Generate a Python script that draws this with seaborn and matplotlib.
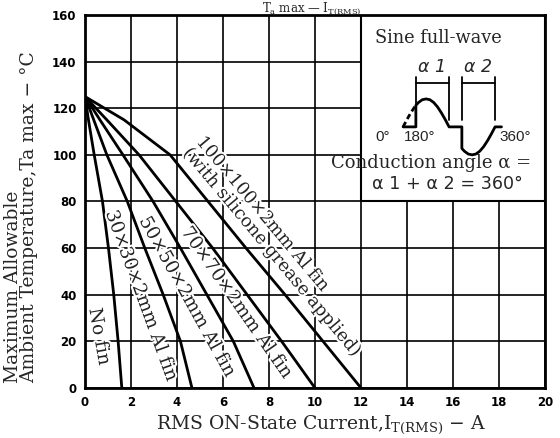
import numpy as np
import pandas as pd
import seaborn as sns
import matplotlib.pyplot as plt
import matplotlib.patheffects as pe
from matplotlib.patches import Rectangle

# Ta max levels (degC) and the RMS current (A) read for each fin
ta_levels = [125, 115, 100, 80, 60, 40, 20, 0]
i_no_fin = [0, 0.15, 0.4, 0.76, 1.02, 1.25, 1.44, 1.6]
i_fin30 = [0, 0.38, 0.95, 1.84, 2.6, 3.4, 4.15, 4.65]
i_fin50 = [0, 0.65, 1.65, 2.96, 4.15, 5.3, 6.45, 7.35]
i_fin70 = [0, 0.95, 2.35, 3.95, 5.55, 7.05, 8.55, 10.0]
i_fin100 = [0, 1.7, 3.7, 5.35, 7.0, 8.7, 10.35, 12.0]

fin_names = ['No fin', '30x30', '50x50', '70x70', '100x100']
x_ticks = list(range(0, 21, 2))
y_ticks = list(range(0, 161, 20))

# inset waveform: phase (deg) and relative amplitude
wave_deg = [0, 50, 50, 60, 75, 90, 105, 120, 135, 150, 165, 180, 230, 230, 240, 255, 270, 285, 300, 315, 330, 345, 360, 385]
wave_amp = [0, 0, .77, .87, .97, 1, .97, .87, .71, .5, .26, 0, 0, -.77, -.87, -.97, -1, -.97, -.87, -.71, -.5, -.26, 0, 0]
dash_deg = [0, 15, 30, 45, 50]
dash_amp = [0, .26, .5, .71, .77]

rows = []
for name, cur in zip(fin_names, [i_no_fin, i_fin30, i_fin50, i_fin70, i_fin100]):
    for c, t in zip(cur, ta_levels):
        rows.append({'fin': name, 'current': c, 'ta': t})
df = pd.DataFrame(rows)

sns.set_theme(style='white')
plt.rcParams['font.family'] = ['DejaVu Serif']

fig = plt.figure(figsize=(5.6, 4.38), dpi=100)
ax = fig.add_axes([0.1518, 0.1142, 0.8214, 0.8516])

sns.lineplot(data=df, x='current', y='ta', hue='fin', palette=['black'] * 5,
             estimator=None, sort=False, lw=2.0, legend=False, ax=ax, zorder=3)

ax.set_xlim(0, 20)
ax.set_ylim(0, 160)
ax.set_xticks(x_ticks)
ax.set_yticks(y_ticks)
ax.set_axisbelow(True)
ax.grid(True, color='black', lw=1.2)
for s in ax.spines.values():
    s.set_color('black')
    s.set_linewidth(2)
ax.tick_params(length=0, labelsize=8.5, pad=6)
plt.setp(ax.get_xticklabels() + ax.get_yticklabels(), family='DejaVu Sans', weight='bold', color='black')
ax.set_xlabel('')
ax.set_ylabel('')

# inset box
ax.add_patch(Rectangle((12, 80), 8, 80, facecolor='white', edgecolor='black', lw=1.5, zorder=1.5))
ax.text(12.6, 150, 'Sine full-wave', fontsize=12.8, va='center', ha='left', zorder=4)

def wx(d):
    return 13.83 + np.asarray(d) / 180 * 2.0

def wy(a):
    return 112 + 12 * np.asarray(a)

ax.plot(wx(wave_deg), wy(wave_amp), color='black', lw=2.0, zorder=4)
ax.plot(wx(dash_deg), wy(dash_amp), color='black', lw=2.0, ls=(0, (2, 1.2)), zorder=4)
for d0, d1 in [(50, 180), (230, 360)]:
    ax.plot([wx(d0), wx(d1)], [131, 131], color='black', lw=1.3, zorder=4)
    for d in (d0, d1):
        ax.plot([wx(d), wx(d)], [133.5, 115], color='black', lw=1.3, zorder=4)
ax.text(wx(115), 137.5, 'α 1', fontsize=12.5, family='DejaVu Sans', ha='center', va='center', style='italic', zorder=4)
ax.text(wx(295), 137.5, 'α 2', fontsize=12.5, family='DejaVu Sans', ha='center', va='center', style='italic', zorder=4)
ax.text(12.95, 107.5, '0°', family='Liberation Sans', fontsize=11, ha='center', va='center', zorder=4)
ax.text(14.57, 107.5, '180°', family='Liberation Sans', fontsize=11, ha='center', va='center', zorder=4)
ax.text(18.7, 107.5, '360°', family='Liberation Sans', fontsize=11, ha='center', va='center', zorder=4)
ax.text(10.7, 96.5, 'Conduction angle α =', fontsize=13, ha='left', va='center', zorder=4)
ax.text(15.75, 87.5, 'α 1 + α 2 = 360°', fontsize=12.6, family='DejaVu Sans', ha='center', va='center', zorder=4)

# curve labels
halo = [pe.withStroke(linewidth=3, foreground='white')]
labels = [
    ('No fin', 0.62, 22, -80, 13.3),
    ('30×30×2mm Al fin', 2.45, 39.5, -70, 13.3),
    ('50×50×2mm Al fin', 4.45, 39, -61, 13.3),
    ('70×70×2mm Al fin', 6.6, 36.5, -55, 13.3),
    ('100×100×2mm Al fin\n(with silicone grease applied)', 8.4, 61, -50, 12.8),
]
for txt, x, y, rot, fs in labels:
    ax.text(x, y, txt, fontsize=fs, rotation=rot, rotation_mode='anchor',
            ha='center', va='center', multialignment='left', linespacing=0.95,
            path_effects=halo, zorder=4)

fig.text(0.573, 0.03, r'RMS ON-State Current,I$_{\mathregular{T(RMS)}}$ − A', fontsize=13.5, ha='center', va='center')
fig.text(0.038, 0.1256, 'Maximum Allowable\nAmbient Temperature,Ta max − °C', fontsize=13.5,
         rotation=90, ha='center', va='bottom', multialignment='left', linespacing=0.9)
fig.text(0.557, 0.999, r'T$_{\mathregular{a}}$ max — I$_{\mathregular{T(RMS)}}$', fontsize=8.5, ha='center', va='top')

fig.savefig('out.png', dpi=100)
